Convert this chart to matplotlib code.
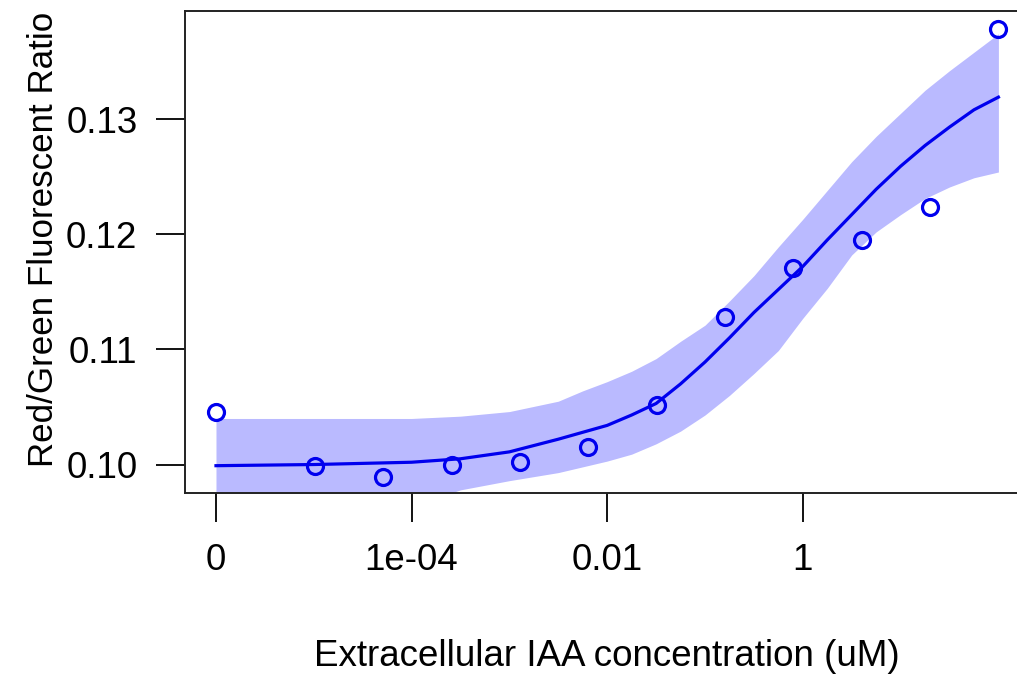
import numpy as np
import matplotlib
matplotlib.use("Agg")
import matplotlib.pyplot as plt

plt.rcParams['font.family'] = ['Liberation Sans', 'DejaVu Sans']

# measured points (concentration in uM, 0 drawn at the 1e-06 slot)
conc = [0, 1.024e-5, 5.12e-5, 2.56e-4, 1.28e-3, 6.4e-3, 0.032, 0.16, 0.8, 4, 20, 100]
ratio = [0.1046, 0.0999, 0.0989, 0.1000, 0.1002, 0.1015, 0.1052, 0.1128,
         0.1171, 0.1195, 0.1224, 0.1378]

# fitted curve and band, read along log10(concentration)
fit_log = [-6, -5, -4, -3.5, -3, -2.5, -2.25, -2, -1.75, -1.5, -1.25, -1,
           -0.75, -0.5, -0.25, 0, 0.25, 0.5, 0.75, 1, 1.25, 1.5, 1.75, 2]
fit_mid = [0.0999, 0.1000, 0.1002, 0.1005, 0.1011, 0.1022, 0.1028, 0.1034,
           0.1043, 0.1053, 0.1070, 0.1089, 0.1110, 0.1132, 0.1152, 0.1172,
           0.1195, 0.1217, 0.1239, 0.1259, 0.1277, 0.1293, 0.1308, 0.1319]
fit_hi = [0.1040, 0.1040, 0.1040, 0.1042, 0.1046, 0.1055, 0.1064, 0.1072,
          0.1081, 0.1092, 0.1107, 0.1121, 0.1142, 0.1164, 0.1189, 0.1213,
          0.1238, 0.1263, 0.1285, 0.1305, 0.1325, 0.1342, 0.1358, 0.1374]
fit_lo = [0.0958, 0.0959, 0.0964, 0.0978, 0.0986, 0.0993, 0.0998, 0.1003,
          0.1009, 0.1018, 0.1029, 0.1043, 0.1060, 0.1079, 0.1099, 0.1127,
          0.1153, 0.1182, 0.1202, 0.1217, 0.1231, 0.1241, 0.1249, 0.1254]

tick_pos = [-6, -4, -2, 0]
tick_lab = ["0", "1e-04", "0.01", "1"]

x_pts = np.array([np.log10(c) if c > 0 else -6 for c in conc])

fig = plt.figure(figsize=(10.17, 6.75), dpi=100)
ax = fig.add_axes([0.1816, 0.270, 0.8309, 0.7137])

ax.fill_between(fit_log, fit_lo, fit_hi, color=(0, 0, 1), alpha=0.27, lw=0)
ax.plot(fit_log, fit_mid, color="#0000ee", lw=2.3, solid_joinstyle="round")
ax.plot(x_pts, ratio, "o", mfc="none", mec="#0000ee", ms=11.5, mew=2.3)

ax.set_xlim(-6.32, 2.32)
ax.set_ylim(0.09755, 0.13938)
ax.set_xticks(tick_pos)
ax.set_xticklabels(tick_lab)
ax.set_yticks([0.10, 0.11, 0.12, 0.13])
ax.set_yticklabels(["0.10", "0.11", "0.12", "0.13"])
ax.tick_params(direction="out", length=21, width=1.3, labelsize=26.5, pad=13, colors="black")
ax.tick_params(axis="x", pad=15)
for s in ax.spines.values():
    s.set_linewidth(1.4)
    s.set_color("#222222")

ax.set_xlabel("Extracellular IAA concentration (uM)", fontsize=26.5, labelpad=44)
ax.set_ylabel("Red/Green Fluorescent Ratio", fontsize=25.2, labelpad=7)
ax.yaxis.set_label_coords(-0.148, 0.525)

fig.savefig("out.png", dpi=100)
